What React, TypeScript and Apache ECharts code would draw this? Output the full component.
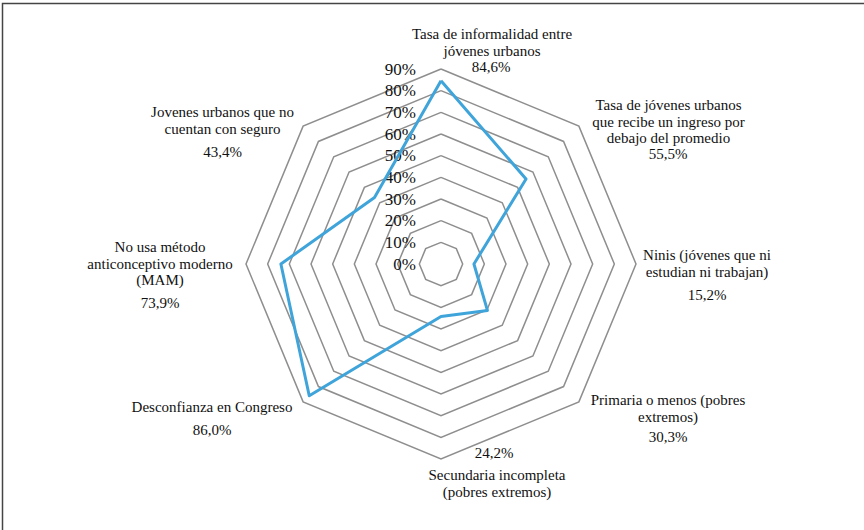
import React, { useEffect, useRef } from "react";
import * as echarts from "echarts";

// Categories in the reference's clockwise order, starting at the top
const categories: string[] = [
  "Tasa de informalidad entre\njóvenes urbanos",
  "Tasa de jóvenes urbanos\nque recibe un ingreso por\ndebajo del promedio",
  "Ninis (jóvenes que ni\nestudian ni trabajan)",
  "Primaria o menos (pobres\nextremos)",
  "Secundaria incompleta\n(pobres extremos)",
  "Desconfianza en Congreso",
  "No usa método\nanticonceptivo moderno\n(MAM)",
  "Jovenes urbanos que no\ncuentan con seguro",
];
const values: number[] = [84.6, 55.5, 15.2, 30.3, 24.2, 86.0, 73.9, 43.4];
const axisMax = 90;
const axisSplits = 9;

// Label layout (positions only): name block first-line centre, value centre
const labelLayout = [
  { nx: 492, ny: 34, vx: 491, vy: 67 },
  { nx: 668.5, ny: 105, vx: 668, vy: 154 },
  { nx: 707, ny: 255, vx: 707, vy: 295 },
  { nx: 668, ny: 400, vx: 668, vy: 437 },
  { nx: 497, ny: 475, vx: 494, vy: 453 },
  { nx: 212, ny: 407, vx: 212, vy: 430 },
  { nx: 160, ny: 247, vx: 160, vy: 303 },
  { nx: 222.5, ny: 112, vx: 222.5, vy: 152 },
];

const fmtPct = (v: number) => v.toFixed(1).replace(".", ",") + "%";

export default function App() {
  const ref = useRef<HTMLDivElement>(null);
  useEffect(() => {
    if (!ref.current) return;
    const chart = echarts.init(ref.current, null, { renderer: "svg" });
    // ECharts lays indicators counter-clockwise; reorder so they read clockwise
    const order = [0, ...categories.map((_, i) => i).slice(1).reverse()];
    const family = "Liberation Serif";
    const LH = 16.5;
    const graphics: any[] = [
      {
        type: "rect",
        shape: { x: 2.5, y: 3.5, width: 900, height: 600 },
        style: { fill: "none", stroke: "#444", lineWidth: 1.5 },
        silent: true,
      },
    ];
    categories.forEach((c, i) => {
      const L = labelLayout[i];
      graphics.push({
        type: "text",
        x: L.nx,
        y: L.ny - LH / 2,
        style: {
          text: c,
          font: `15px "${family}"`,
          fill: "#111",
          textAlign: "center",
          textVerticalAlign: "top",
          lineHeight: LH,
        },
      });
      graphics.push({
        type: "text",
        x: L.vx,
        y: L.vy,
        style: {
          text: fmtPct(values[i]),
          font: `15px "${family}"`,
          fill: "#111",
          textAlign: "center",
          textVerticalAlign: "middle",
        },
      });
    });

    chart.setOption({
      animation: false,
      backgroundColor: "#fff",
      textStyle: { fontFamily: family },
      radar: {
        center: [441, 264],
        radius: 195,
        startAngle: 90,
        shape: "polygon",
        splitNumber: axisSplits,
        axisName: { show: false },
        axisLine: { show: false },
        axisTick: { show: false },
        axisLabel: { show: false },
        splitArea: { show: false },
        splitLine: { lineStyle: { color: "#8e8e8e", width: 1.5 } },
        indicator: order.map((i, k) => ({
          name: categories[i],
          min: 0,
          max: axisMax,
          ...(k === 0
            ? {
                axisLabel: {
                  show: true,
                  margin: 25,
                  color: "#111",
                  fontSize: 17,
                  fontFamily: family,
                  formatter: (v: number) => Math.round(v) + "%",
                },
              }
            : {}),
        })),
      },
      series: [
        {
          type: "radar",
          symbol: "none",
          lineStyle: { color: "#3fa4da", width: 3 },
          data: [{ value: order.map((i) => values[i]), name: "Serie" }],
        },
      ],
      graphic: graphics,
    });
    return () => chart.dispose();
  }, []);
  return (
    <div
      ref={ref}
      style={{ position: "absolute", left: 0, top: 0, width: 864, height: 530, background: "#fff" }}
    />
  );
}
